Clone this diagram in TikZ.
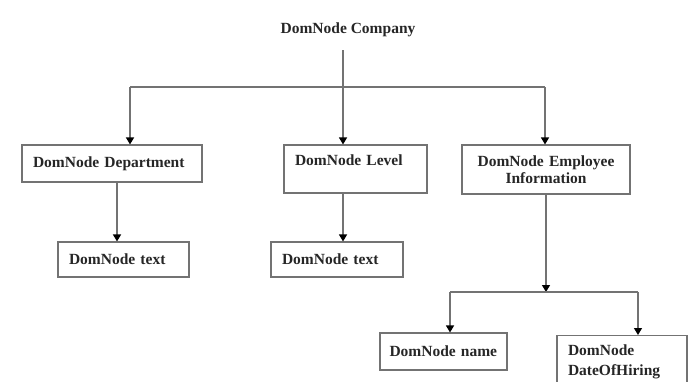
\documentclass[tikz,border=0pt]{standalone}
\usepackage{fontspec}
\setmainfont{Liberation Serif}
\usetikzlibrary{arrows.meta}
\tikzset{
  boxnode/.style={draw=black!55, line width=1.1pt, inner xsep=11pt, inner ysep=0pt,
    font=\fontsize{15.5}{17}\selectfont\bfseries, text=black!85, align=left},
  conn/.style={draw=black!55, line width=1.3pt},
  arr/.style={conn, -{Triangle[width=8pt,length=7pt,color=black]}}
}
\begin{document}
\begin{tikzpicture}[x=1pt,y=-1pt]
\clip (0,0) rectangle (692,381);
\fill[white] (0,0) rectangle (692,381);
% nodes
\node[font=\fontsize{15.5}{17}\selectfont\bfseries, text=black!85, minimum height=40pt, inner sep=0pt] (comp) at (348,30) {DomNode Company};
\node[boxnode, minimum height=37pt, text width=158pt] (dept) at (112,163.5) {DomNode Department};
\node[boxnode, minimum height=48pt, text width=121pt] (level) at (355.5,169) {DomNode Level\\\mbox{}};
\node[boxnode, minimum height=49pt, text width=146pt, align=center] (emp) at (546,169.5) {DomNode Employee\\Information};
\node[boxnode, minimum height=35pt, text width=109pt] (t1) at (123.5,259.5) {DomNode text};
\node[boxnode, minimum height=35pt, text width=110pt] (t2) at (337,259.5) {DomNode text};
\node[boxnode, minimum height=37pt, inner xsep=9.5pt, text width=108pt] (name) at (443.5,351.5) {DomNode name};
\node[boxnode, inner ysep=9pt, text width=108pt, anchor=north, font=\fontsize{15.5}{20}\selectfont\bfseries, minimum height=60pt] (date) at (622,335) {DomNode\\DateOfHiring\\\mbox{}};
% coordinates
\coordinate (jl) at (130,87);
\coordinate (jr) at (545,87);
\coordinate (d1) at (117,0);
\coordinate (l1) at (343,0);
\coordinate (e1) at (546,0);
\coordinate (bar) at (546,292);
\coordinate (bl) at (450,292);
\coordinate (br) at (638,292);
% connectors
\draw[arr] (l1 |- comp.south) -- (l1 |- level.north);
\draw[conn] (jl) -- (jr);
\draw[arr] (jl) -- (jl |- dept.north);
\draw[arr] (jr) -- (jr |- emp.north);
\draw[arr] (d1 |- dept.south) -- (d1 |- t1.north);
\draw[arr] (l1 |- level.south) -- (l1 |- t2.north);
\draw[arr] (e1 |- emp.south) -- (bar);
\draw[conn] (bl) -- (br);
\draw[arr] (bl) -- (bl |- name.north);
\draw[arr] (br) -- (br |- date.north);
\end{tikzpicture}
\end{document}
